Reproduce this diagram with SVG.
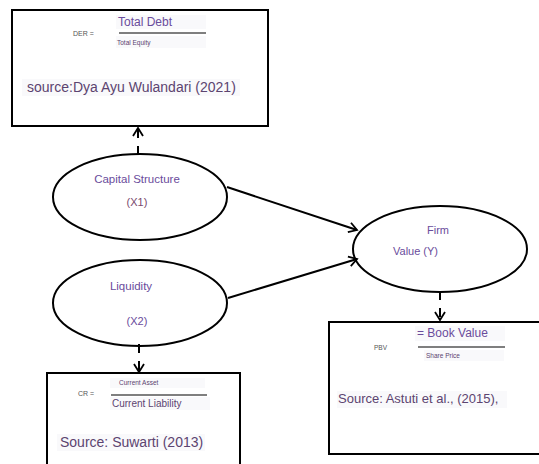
<svg xmlns="http://www.w3.org/2000/svg" width="539" height="464" viewBox="0 0 539 464">
<defs>
<marker id="arr" markerWidth="12" markerHeight="12" refX="10" refY="6" orient="auto" markerUnits="userSpaceOnUse">
<path d="M2,1 L10,6 L2,11" fill="none" stroke="#000" stroke-width="1.8"/>
</marker>
<style>
.box{fill:#fff;stroke:#000;stroke-width:2}
.ell{fill:#fff;stroke:#000;stroke-width:2}
.bg{fill:#f9f9fb}
.t{font-family:"Liberation Sans",Arial,sans-serif}
.pur{fill:#6a4c9c}
.mau{fill:#7a4a6e}
.src{fill:#5c4470}
.gr{fill:#555}
.con{stroke:#000;stroke-width:2;fill:none}
.dash{stroke-dasharray:9,8}
.frac{stroke:#000;stroke-width:1.2}
</style>
</defs>
<rect width="539" height="464" fill="#fff"/>

<g id="der-box">
<rect class="box" x="12" y="10" width="256" height="116"/>
<rect class="bg" x="116" y="15" width="90" height="14"/>
<rect class="bg" x="116" y="36" width="90" height="12"/>
<rect class="bg" x="22" y="79" width="218" height="17"/>
<text class="t gr" x="73" y="36" font-size="7">DER =</text>
<text class="t pur" x="118" y="26" font-size="12">Total Debt</text>
<line class="frac" x1="119" y1="33" x2="206" y2="33"/>
<text class="t src" x="117" y="45" font-size="6.5">Total Equity</text>
<text class="t src" x="27" y="92" font-size="14">source:Dya Ayu Wulandari (2021)</text>
</g>

<g id="capital-structure">
<ellipse class="ell" cx="140" cy="197" rx="87" ry="43"/>
<text class="t pur" x="137" y="183" font-size="11.5" text-anchor="middle">Capital Structure</text>
<text class="t mau" x="137" y="206" font-size="11" text-anchor="middle">(X1)</text>
</g>

<g id="liquidity">
<ellipse class="ell" cx="140" cy="303" rx="87" ry="43"/>
<text class="t pur" x="131" y="290" font-size="11.5" text-anchor="middle">Liquidity</text>
<text class="t pur" x="137" y="325" font-size="11" text-anchor="middle">(X2)</text>
</g>

<g id="firm-value">
<ellipse class="ell" cx="440" cy="249" rx="87" ry="43"/>
<text class="t pur" x="438" y="234" font-size="11" text-anchor="middle">Firm</text>
<text class="t pur" x="393" y="255" font-size="11">Value (Y)</text>
</g>

<g id="pbv-box">
<rect class="box" x="329" y="322" width="215" height="132"/>
<rect class="bg" x="415" y="326" width="90" height="15"/>
<rect class="bg" x="424" y="350" width="80" height="11"/>
<rect class="bg" x="337" y="391" width="170" height="17"/>
<text class="t gr" x="374" y="350" font-size="6.5">PBV</text>
<text class="t pur" x="417" y="337" font-size="12">= Book Value</text>
<line class="frac" x1="418" y1="347" x2="505" y2="347"/>
<text class="t src" x="426" y="358" font-size="6.5">Share Price</text>
<text class="t src" x="338" y="403" font-size="13">Source: Astuti et al., (2015),</text>
</g>

<g id="cr-box">
<rect class="box" x="47" y="373" width="193" height="100"/>
<rect class="bg" x="110" y="378" width="95" height="10"/>
<rect class="bg" x="110" y="397" width="100" height="13"/>
<rect class="bg" x="57" y="434" width="148" height="17"/>
<text class="t gr" x="78" y="396" font-size="7">CR =</text>
<text class="t src" x="119" y="385" font-size="6.5">Current Asset</text>
<line class="frac" x1="111" y1="395" x2="207" y2="395"/>
<text class="t src" x="112" y="407" font-size="10">Current Liability</text>
<text class="t src" x="60" y="447" font-size="14">Source: Suwarti (2013)</text>
</g>

<g id="connectors">
<line class="con dash" x1="138" y1="155" x2="138" y2="128" marker-end="url(#arr)"/>
<line class="con dash" x1="440" y1="291" x2="440" y2="320" marker-end="url(#arr)"/>
<line class="con dash" x1="139" y1="344" x2="139" y2="372" marker-end="url(#arr)"/>
<line class="con" x1="227" y1="187" x2="357" y2="230" marker-end="url(#arr)"/>
<line class="con" x1="228" y1="298" x2="357" y2="259" marker-end="url(#arr)"/>
</g>
</svg>
